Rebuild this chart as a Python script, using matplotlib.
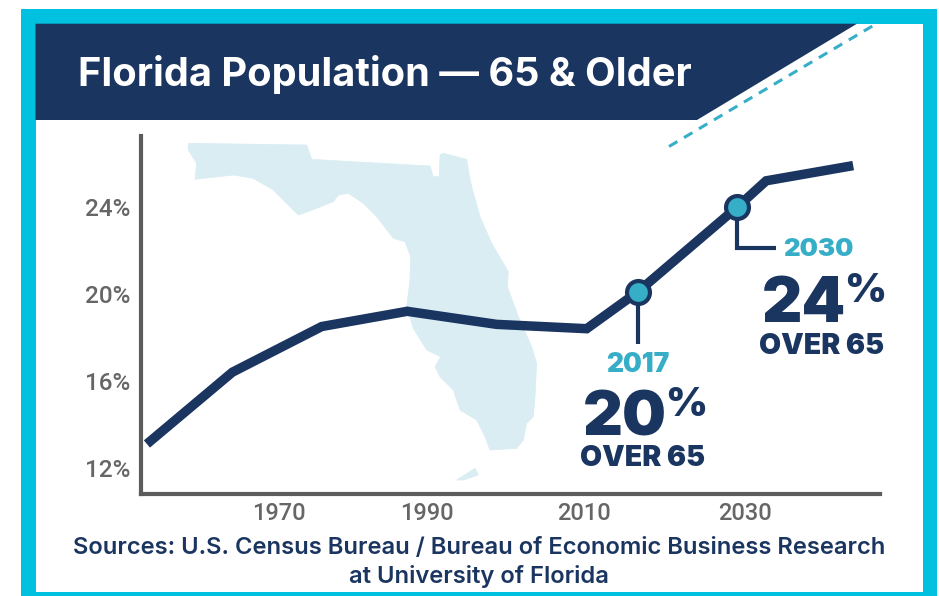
import matplotlib
matplotlib.use("Agg")
import matplotlib.pyplot as plt
from matplotlib.patches import Polygon, Rectangle

# ---- data
years = [1953.0, 1964.0, 1975.5, 1986.5, 1998.0, 2009.6, 2016.2, 2029.0, 2032.7, 2043.9]
share = [13.1, 16.4, 18.5, 19.2, 18.6, 18.4, 20.1, 24.0, 25.2, 25.9]
marker_years = [2016.2, 2029.0]
marker_share = [20.1, 24.0]
ytick_values = [12, 16, 20, 24]
ytick_labels = ["12%", "16%", "20%", "24%"]
xtick_values = [1970, 1989.1, 2009.2, 2030]
xtick_labels = ["1970", "1990", "2010", "2030"]

NAVY = "#1a3560"
CYAN = "#00c1df"
TEAL = "#37aec8"
GRAY = "#666666"
MAP = "#d9edf3"
W, H = 939, 596

fig = plt.figure(figsize=(W / 100, H / 100), dpi=100, facecolor="white")

# pixel-space overlay for the frame, banner, map and text
bg = fig.add_axes([0, 0, 1, 1], zorder=0)
bg.set_xlim(0, W)
bg.set_ylim(H, 0)
bg.axis("off")
bg.add_patch(Rectangle((21, 9), 916, 590, fc=CYAN, ec="none"))
bg.add_patch(Rectangle((35.5, 23.7), 887.5, 568.3, fc="white", ec="none"))
bg.add_patch(Polygon([(35.5, 23.7), (857, 23.7), (697, 120), (35.5, 120)], fc=NAVY, ec="none"))
bg.plot([669, 875], [146.5, 24.5], color=TEAL, lw=2.2, dashes=(3.2, 2.5), solid_capstyle="butt")

florida = [(55,40),(410,45),(425,88),(600,98),(780,108),(790,140),(808,140),(810,75),(820,70),(890,88),(897,130),(905,170),
           (930,260),(965,340),(1015,425),(1012,470),(1045,560),(1085,650),(1100,700),(1095,800),(1090,860),
           (1070,880),(1060,930),(1040,955),(960,960),(945,920),(920,870),(870,840),(850,780),(810,740),
           (795,710),(812,680),(770,660),(730,595),(710,530),(720,450),(722,380),(705,335),(670,325),
           (620,260),(580,220),(535,190),(505,195),(490,215),(440,235),(385,255),(365,235),(310,180),
           (250,145),(190,135),(75,148),(80,100),(55,60)]
keys = [(860,1050),(915,1015),(925,1035),(880,1050)]
for outline in (florida, keys):
    bg.add_patch(Polygon([(170 + x / 3, 130 + y / 3) for x, y in outline], fc=MAP, ec=MAP, lw=0.5, joinstyle="round"))

HEAD = ["Inter", "DejaVu Sans"]
bg.text(78, 75, "Florida Population — 65 & Older", color="white", fontsize=28.6, fontweight="bold",
        family=HEAD, ha="left", va="center")
for x, y, s, fs in [(479, 548, "Sources: U.S. Census Bureau / Bureau of Economic Business Research", 17.1),
                    (479, 576, "at University of Florida", 17.1)]:
    bg.text(x, y, s, color=NAVY, fontsize=fs, fontweight="semibold", family=HEAD, ha="center", va="center")

# callouts
for x, y, s, fs, c, ha in [
    (638, 365, "2017", 19, TEAL, "center"),
    (818, 249, "2030", 18.5, TEAL, "center"),
    (583, 419, "20", 44.5, NAVY, "left"),
    (762, 305, "24", 45, NAVY, "left"),
    (665, 405, "%", 29, NAVY, "left"),
    (844, 291, "%", 29, NAVY, "left"),
    (643, 459, "OVER 65", 20.5, NAVY, "center"),
    (822, 346, "OVER 65", 20.5, NAVY, "center"),
]:
    bg.text(x, y, s, color=c, fontsize=fs, fontweight="black", family=HEAD, ha=ha, va="center")

# chart axes, placed to match the reference plot area
ax = fig.add_axes([141 / W, 1 - 494 / H, (880 - 141) / W, (494 - 136) / H], zorder=1)
ax.patch.set_alpha(0)
ax.set_xlim(1952.24, 2047.35)
ax.set_ylim(10.8, 27.26)
for side in ("top", "right"):
    ax.spines[side].set_visible(False)
for side in ("left", "bottom"):
    ax.spines[side].set_color("#5c5c5c")
    ax.spines[side].set_linewidth(3)
ax.set_xticks(xtick_values, xtick_labels)
ax.set_yticks(ytick_values, ytick_labels)
ax.tick_params(axis="x", length=0, labelsize=17, labelcolor=GRAY, pad=6)
ax.tick_params(axis="y", length=0, labelsize=17.5, labelcolor=GRAY, pad=8)
for t in ax.get_xticklabels() + ax.get_yticklabels():
    t.set_family(["Roboto", "DejaVu Sans"])
    t.set_fontweight("medium")

ax.plot(years, share, color=NAVY, lw=6.8, solid_joinstyle="miter", solid_capstyle="butt", zorder=3)
ax.plot([2016.2, 2016.2], [20.1, 17.7], color=NAVY, lw=3, solid_capstyle="butt", zorder=2)
ax.plot([2029.0, 2029.0, 2034.0], [24.0, 22.1, 22.1], color=NAVY, lw=3,
        solid_joinstyle="miter", solid_capstyle="butt", zorder=2)
ax.plot(marker_years, marker_share, "o", ms=16.5, mfc=TEAL, mec=NAVY, mew=3, zorder=4)

fig.savefig("out.png", dpi=100)
